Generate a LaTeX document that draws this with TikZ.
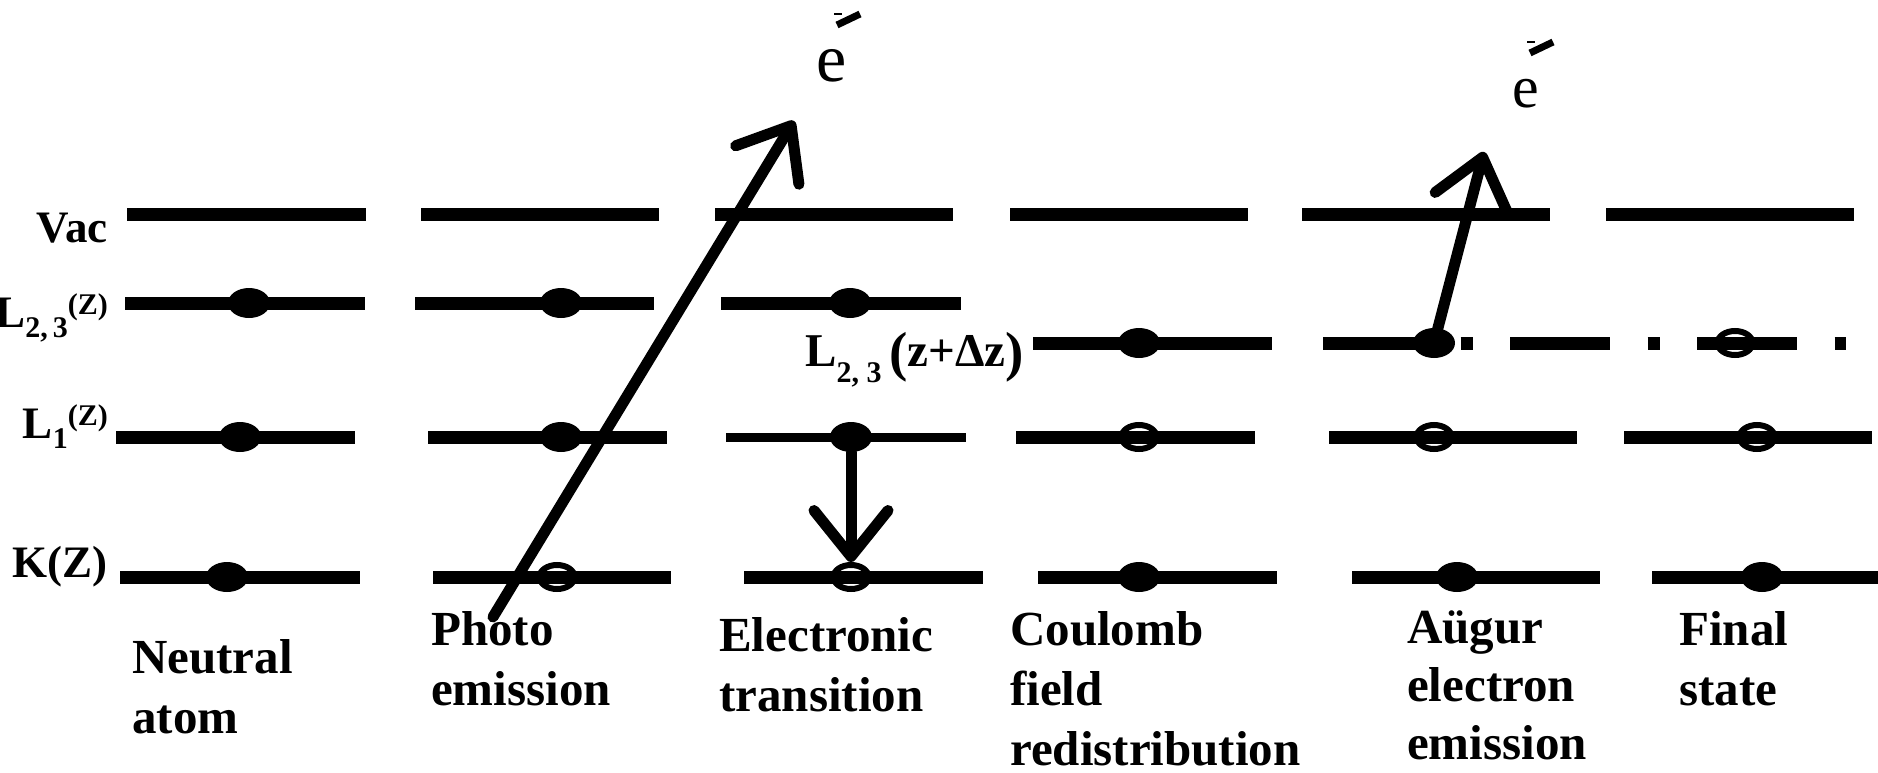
\documentclass[tikz,border=0pt]{standalone}
\usepackage{fontspec}
\setmainfont{Liberation Serif}
\usetikzlibrary{arrows.meta,shapes.geometric}
\newcommand{\lsub}[2][-10pt]{\raisebox{#1}{\fontsize{30}{30}\selectfont #2}}
\newcommand{\lsup}[1]{\raisebox{13pt}{\fontsize{30}{30}\selectfont #1}}
\newcommand{\labstack}[1]{\vtop{\halign{##\hfil\cr#1\crcr}}}
\begin{document}
\begin{tikzpicture}[x=1pt,y=-1pt,
  lvl/.style={line width=13pt},
  thinlvl/.style={line width=9pt},
  fdot/.style={ellipse, fill=black, minimum width=42pt, minimum height=30pt, inner sep=0pt},
  odot/.style={ellipse, draw=black, line width=6pt, minimum width=35pt, minimum height=24pt, inner sep=0pt},
  arr/.style={line width=11pt, line cap=round, -{Straight Barb[length=46pt,width=74pt,round]}},
  levlab/.style={font=\fontsize{45}{54}\selectfont\bfseries, inner sep=0pt, anchor=base east},
  captext/.style={font=\fontsize{49}{60}\selectfont\bfseries, inner sep=0pt, anchor=base west},
  elab/.style={inner sep=0pt, anchor=base west},
  chargebar/.style={line width=7pt},
  chargetick/.style={line width=1.2pt}
]
\useasboundingbox (0,0) rectangle (1878,773);

% ---- energy levels ----
% Vac
\foreach \a/\b in {127/366,421/659,715/953,1010/1248,1302/1550,1606/1854}
  \draw[lvl] (\a,214) -- (\b,214);
% L2,3
\foreach \a/\b in {125/365,415/654,721/961}
  \draw[lvl] (\a,303) -- (\b,303);
% L2,3 (z+dz)
\draw[lvl] (1033,343) -- (1272,343);
\draw[lvl, dash pattern=on 100pt off 37.5pt on 12pt off 37.5pt] (1323,343) -- (1846,343);
% L1
\foreach \a/\b in {116/355,428/667,1016/1255,1329/1577,1624/1872}
  \draw[lvl] (\a,437) -- (\b,437);
\draw[thinlvl] (726,437) -- (966,437);
% K
\foreach \a/\b in {120/360,433/671,744/983,1038/1277,1352/1600,1652/1890}
  \draw[lvl] (\a,577) -- (\b,577);

% ---- electrons ----
\node[fdot] (d1a) at (249,303) {};
\node[fdot] (d1b) at (240,437) {};
\node[fdot] (d1c) at (227,577) {};
\node[fdot] (d2a) at (561,303) {};
\node[fdot] (d2b) at (561,437) {};
\node[odot] (d2c) at (557,577) {};
\node[fdot] (d3a) at (850,303) {};
\node[fdot] (d3b) at (851,437) {};
\node[odot] (d3c) at (851,577) {};
\node[fdot] (d4a) at (1139,343) {};
\node[odot] (d4b) at (1139,437) {};
\node[fdot] (d4c) at (1139,577) {};
\node[fdot] (d5a) at (1434,343) {};
\node[odot] (d5b) at (1434,437) {};
\node[fdot] (d5c) at (1457,577) {};
\node[odot] (d6a) at (1735,343) {};
\node[odot] (d6b) at (1757,437) {};
\node[fdot] (d6c) at (1762,577) {};

% ---- arrows ----
\coordinate (pstart) at (493,617);
\coordinate (ptip) at (794,121);
\draw[arr] (pstart) -- (ptip);
\draw[arr] (d3b.south) -- (d3c.north);
\coordinate (atip) at (1484,152);
\draw[arr] (d5a.center) -- (atip);

% ---- emitted electrons ----
\node[elab, font=\fontsize{68}{68}\selectfont] (e1) at (816,82) {e};
\draw[chargebar] (837,25) -- (860,14);
\draw[chargetick] (834,14) -- (842,14);
\node[elab, font=\fontsize{60}{60}\selectfont] (e2) at (1512,108) {e};
\draw[chargebar] (1530,53) -- (1553,42);
\draw[chargetick] (1527,42) -- (1535,42);

% ---- level labels ----
\node[levlab] (tvac) at (108,242) {Vac};
\node[levlab] (tl23) at (108,327) {L\lsub{2,\,3}\lsup{(Z)}};
\node[levlab] (tl1) at (108,438) {L\lsub{1}\lsup{(Z)}};
\node[levlab] (tk) at (108,577) {K(Z)};
\node[inner sep=0pt, anchor=base west, font=\fontsize{47}{54}\selectfont\bfseries] (tl23z) at (805,366)
  {L\lsub[-16pt]{2, 3}\,\raisebox{-4pt}{\fontsize{55}{55}\selectfont (}z+Δz\raisebox{-4pt}{\fontsize{55}{55}\selectfont )}};

% ---- captions ----
\node[captext] (c1) at (132,673) {\labstack{Neutral\cr atom}};
\node[captext] (c2) at (431,645) {\labstack{Photo\cr emission}};
\node[captext] (c3) at (719,651) {\labstack{Electronic\cr transition}};
\node[captext] (c4) at (1010,645) {\labstack{Coulomb\cr field\cr redistribution}};
\node[captext, font=\fontsize{49}{58}\selectfont\bfseries] (c5) at (1407,643) {\labstack{Aügur\cr electron\cr emission}};
\node[captext] (c6) at (1679,645) {\labstack{Final\cr state}};
\end{tikzpicture}
\end{document}
